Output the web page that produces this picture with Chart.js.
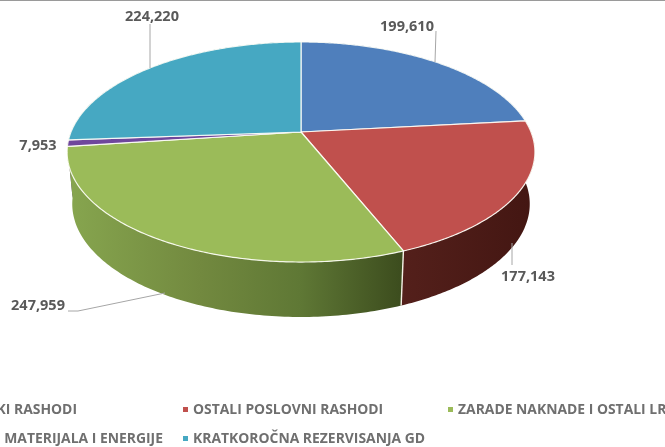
<!DOCTYPE html>
<html><head><meta charset="utf-8">
<style>html,body{margin:0;padding:0;background:#fff;overflow:hidden}canvas{display:block;filter:blur(0.35px)}</style>
<script src="https://cdn.jsdelivr.net/npm/chart.js@4"></script>
</head><body>
<canvas id="c" width="665" height="447"></canvas>
<script>
const categories = ["FINANSIJSKI RASHODI","OSTALI POSLOVNI RASHODI","ZARADE NAKNADE I OSTALI LR","TROŠKOVI MATERIJALA I ENERGIJE","KRATKOROČNA REZERVISANJA GD"];
const values = [199610,177143,247959,7953,224220];
const colors = ["#4f7fbc","#c0504d","#9bbb59","#6f479c","#46a8c2"];

// presentation only: label boxes, leader lines, legend placement
const labelPos = [[407,27],[528,277],[38,306],[38,146],[152,17]];
const leaders = [
  [[436,31],[435,62]],
  [[512,243],[512,265]],
  [[68,311],[78,311],[165,293]],
  null,
  [[150,24],[150,68]]
];
const legendPos = [[77,410,"right"],[193,410,"left"],[458,410,"left"],[163,439,"right"],[193,439,"left"]];
const FONT = 'bold 14.5px "Open Sans"';
const LEGFONT = 'bold 13.9px "Open Sans"';

// perspective of the pie plane
const K = 0.1818, BY = 0.4626, BY2 = 0.4752, AX2 = 0.978, DY2 = 51.4;
function rimTop(el,t){const c=Math.cos(t),s=Math.sin(t),w=1-K*s,r=el.outerRadius;return [el.x+r*c/w, el.y+r*BY*s/w];}
function rimBot(el,t){const c=Math.cos(t),s=Math.sin(t),w=1-K*s,r=el.outerRadius;return [el.x+r*AX2*c/w, el.y+DY2+r*BY2*s/w];}

const pie3d = {
  id:'pie3d',
  beforeDatasetsDraw(chart){
    const ctx=chart.ctx, arcs=chart.getDatasetMeta(0).data;
    ctx.save();
    // side wall
    const wallStops=[
      null,
      [[400,"#54201b"],[535,"#431612"]],
      [[66,"#87a64f"],[200,"#72893f"],[300,"#5f7835"],[405,"#3b4b1d"]],
      [[66,"#5f3f80"],[80,"#5f3f80"]],
      [[66,"#327f92"],[300,"#327f92"]]
    ];
    const order=[0,4,3,2,1];
    order.forEach(i=>{
      const el=arcs[i];
      const stops=wallStops[i];
      let fill=colors[i];
      if(stops){
        fill=ctx.createLinearGradient(stops[0][0],0,stops[stops.length-1][0],0);
        const x0=stops[0][0],x1=stops[stops.length-1][0];
        stops.forEach(s=>fill.addColorStop((s[0]-x0)/(x1-x0),s[1]));
      }
      const n=120;
      ctx.beginPath();
      for(let j=0;j<=n;j++){const p=rimTop(el,el.startAngle+(el.endAngle-el.startAngle)*j/n);j?ctx.lineTo(p[0],p[1]):ctx.moveTo(p[0],p[1]);}
      for(let j=n;j>=0;j--){const p=rimBot(el,el.startAngle+(el.endAngle-el.startAngle)*j/n);ctx.lineTo(p[0],p[1]);}
      ctx.closePath();
      ctx.fillStyle=fill;ctx.fill();
    });
    // separator on the wall
    {
      const el=arcs[2];const a=rimTop(el,el.startAngle),b=rimBot(el,el.startAngle);
      ctx.strokeStyle="#f4f2e6";ctx.lineWidth=1.4;ctx.beginPath();ctx.moveTo(a[0],a[1]);ctx.lineTo(b[0],b[1]);ctx.stroke();
    }
    // top faces
    arcs.forEach((el,i)=>{
      const n=160;
      ctx.beginPath();ctx.moveTo(el.x,el.y);
      for(let j=0;j<=n;j++){const p=rimTop(el,el.startAngle+(el.endAngle-el.startAngle)*j/n);ctx.lineTo(p[0],p[1]);}
      ctx.closePath();
      ctx.fillStyle=colors[i];ctx.fill();
      ctx.strokeStyle="rgba(255,255,248,0.9)";ctx.lineWidth=1.2;ctx.lineJoin="round";ctx.stroke();
    });
    // leaders and value labels
    ctx.strokeStyle="#a6a6a6";ctx.lineWidth=1;
    leaders.forEach(l=>{
      if(!l)return;
      ctx.beginPath();l.forEach((p,j)=>j?ctx.lineTo(p[0],p[1]):ctx.moveTo(p[0],p[1]));ctx.stroke();
    });
    ctx.font=FONT;ctx.fillStyle="#595959";ctx.textAlign="center";ctx.textBaseline="middle";
    values.forEach((v,i)=>ctx.fillText(v.toLocaleString("en-US"),labelPos[i][0],labelPos[i][1]));
    // legend
    ctx.font=LEGFONT;ctx.fillStyle="#6f6f6f";
    categories.forEach((c,i)=>{
      const [x,y,al]=legendPos[i];
      ctx.textAlign=al;ctx.fillStyle="#6f6f6f";ctx.fillText(c,x,y);
      if(al==="left"){ctx.fillStyle=colors[i];ctx.fillRect(x-10,y-3,5,5);}
    });
    // frame line at the top
    ctx.fillStyle="#9a9a9a";ctx.fillRect(0,0,665,1);
    ctx.restore();
    return false;
  }
};

new Chart(document.getElementById('c'),{
  type:'pie',
  data:{labels:categories,datasets:[{data:values,backgroundColor:colors}]},
  options:{
    responsive:false,animation:false,radius:230,
    layout:{padding:{left:0,top:0,right:63,bottom:183}},
    plugins:{legend:{display:false},tooltip:{enabled:false}}
  },
  plugins:[pie3d]
});
</script>
</body></html>
